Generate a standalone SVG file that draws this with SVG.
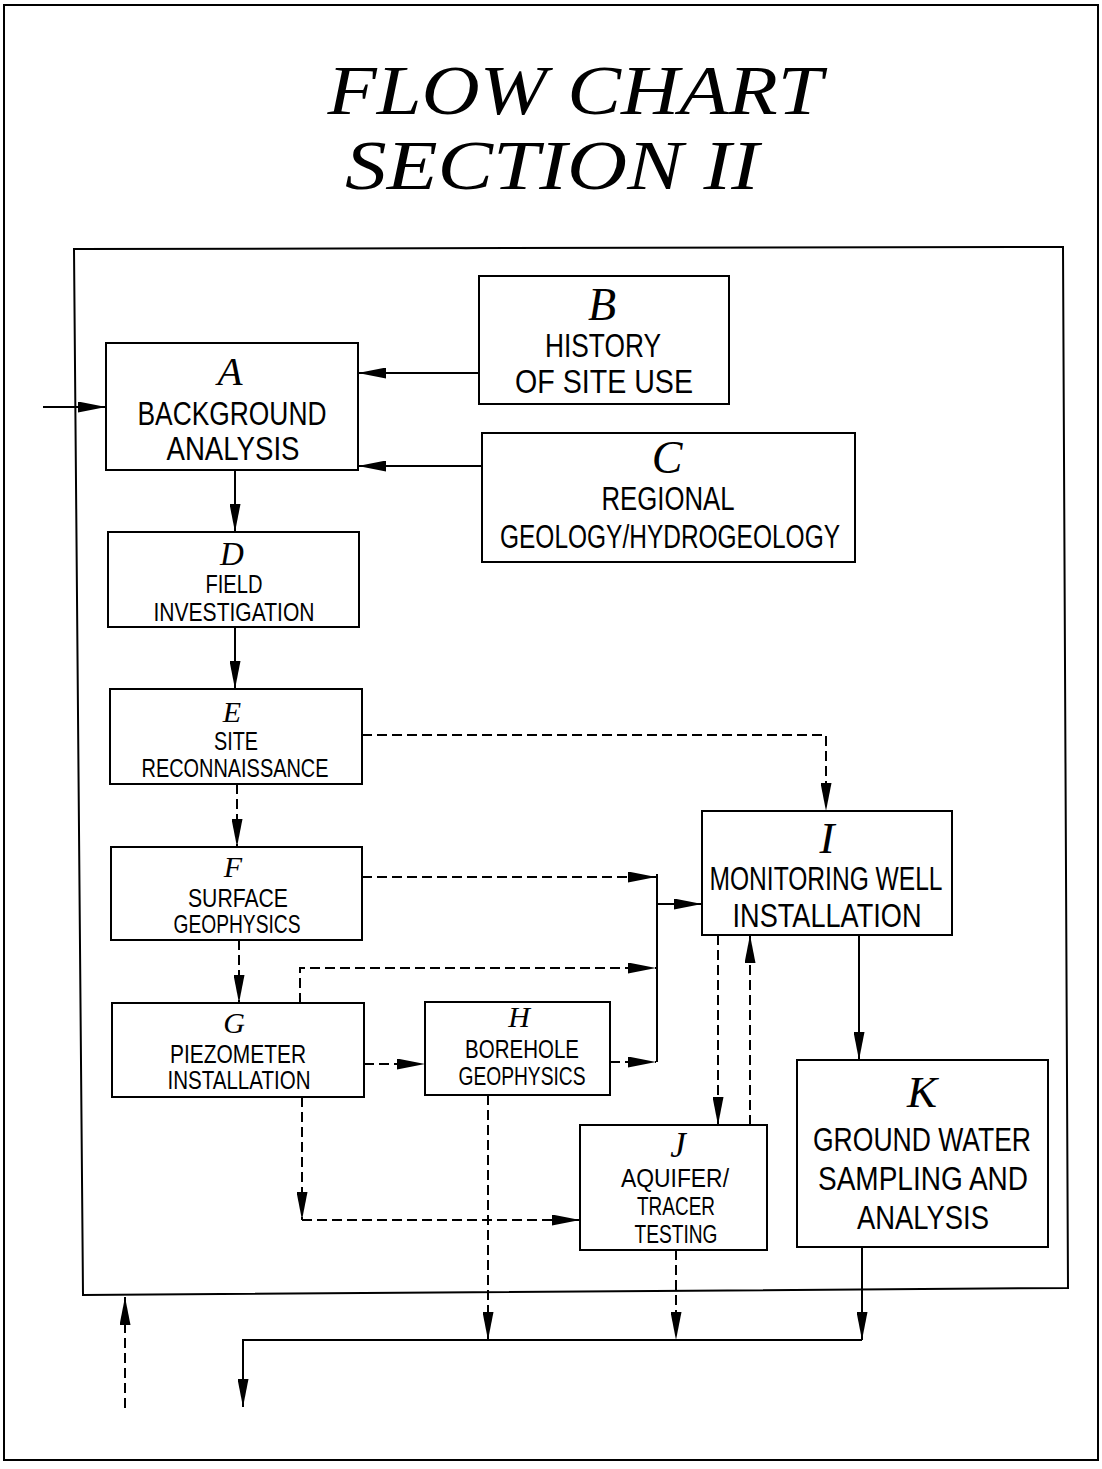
<svg xmlns="http://www.w3.org/2000/svg" width="1102" height="1469" viewBox="0 0 1102 1469">
<style>
.box{fill:none;stroke:#000;stroke-width:2}
.ln{fill:none;stroke:#000;stroke-width:2}
.ds{stroke-dasharray:10 5}
.lbl{font-family:"Liberation Serif",serif;font-style:italic;text-anchor:middle;fill:#000}
.txt{font-family:"Liberation Sans",sans-serif;text-anchor:middle;fill:#000}
.big{font-size:34px}
.sm{font-size:25px}
.title{font-family:"Liberation Serif",serif;font-style:italic;font-size:70px;text-anchor:middle;fill:#000}
</style>
<defs>
<marker id="ah" viewBox="0 0 28 11" refX="28" refY="5.5" markerWidth="28" markerHeight="11" markerUnits="userSpaceOnUse" orient="auto">
<path d="M0,0 L28,5.5 L0,11 Z" fill="#000"/>
</marker>
</defs>
<rect width="1102" height="1469" fill="#fff"/>
<rect x="4" y="5" width="1094" height="1455" class="box"/>
<polygon points="74,249 1063,247 1068,1288 83,1295" class="box"/>
<g id="title">
<text x="575" y="114" class="title" textLength="495" lengthAdjust="spacingAndGlyphs">FLOW CHART</text>
<text x="552" y="189" class="title" textLength="414" lengthAdjust="spacingAndGlyphs">SECTION II</text>
</g>
<g id="A">
<rect x="106" y="343" width="252" height="127" class="box"/>
<text x="230" y="385" class="lbl" font-size="41">A</text>
<text x="232" y="425" class="txt big" textLength="189" lengthAdjust="spacingAndGlyphs">BACKGROUND</text>
<text x="233" y="460" class="txt big" textLength="133" lengthAdjust="spacingAndGlyphs">ANALYSIS</text>
</g>
<g id="B">
<rect x="479" y="276" width="250" height="128" class="box"/>
<text x="602" y="320" class="lbl" font-size="46">B</text>
<text x="603" y="357" class="txt big" textLength="116" lengthAdjust="spacingAndGlyphs">HISTORY</text>
<text x="604" y="393" class="txt big" textLength="178" lengthAdjust="spacingAndGlyphs">OF SITE USE</text>
</g>
<g id="C">
<rect x="482" y="433" width="373" height="129" class="box"/>
<text x="667" y="473" class="lbl" font-size="46">C</text>
<text x="668" y="510" class="txt big" textLength="133" lengthAdjust="spacingAndGlyphs">REGIONAL</text>
<text x="670" y="548" class="txt big" textLength="340" lengthAdjust="spacingAndGlyphs">GEOLOGY/HYDROGEOLOGY</text>
</g>
<g id="D">
<rect x="108" y="532" width="251" height="95" class="box"/>
<text x="232" y="565" class="lbl" font-size="33">D</text>
<text x="234" y="593" class="txt sm" textLength="57" lengthAdjust="spacingAndGlyphs">FIELD</text>
<text x="234" y="621" class="txt sm" textLength="161" lengthAdjust="spacingAndGlyphs">INVESTIGATION</text>
</g>
<g id="E">
<rect x="110" y="689" width="252" height="95" class="box"/>
<text x="232" y="722" class="lbl" font-size="30">E</text>
<text x="236" y="750" class="txt sm" textLength="44" lengthAdjust="spacingAndGlyphs">SITE</text>
<text x="235" y="777" class="txt sm" textLength="187" lengthAdjust="spacingAndGlyphs">RECONNAISSANCE</text>
</g>
<g id="F">
<rect x="111" y="847" width="251" height="93" class="box"/>
<text x="233" y="877" class="lbl" font-size="30">F</text>
<text x="238" y="907" class="txt sm" textLength="100" lengthAdjust="spacingAndGlyphs">SURFACE</text>
<text x="237" y="933" class="txt sm" textLength="127" lengthAdjust="spacingAndGlyphs">GEOPHYSICS</text>
</g>
<g id="G">
<rect x="112" y="1003" width="252" height="94" class="box"/>
<text x="234" y="1033" class="lbl" font-size="30">G</text>
<text x="238" y="1063" class="txt sm" textLength="136" lengthAdjust="spacingAndGlyphs">PIEZOMETER</text>
<text x="239" y="1089" class="txt sm" textLength="143" lengthAdjust="spacingAndGlyphs">INSTALLATION</text>
</g>
<g id="H">
<rect x="425" y="1002" width="185" height="93" class="box"/>
<text x="519" y="1027" class="lbl" font-size="30">H</text>
<text x="522" y="1058" class="txt sm" textLength="114" lengthAdjust="spacingAndGlyphs">BOREHOLE</text>
<text x="522" y="1085" class="txt sm" textLength="127" lengthAdjust="spacingAndGlyphs">GEOPHYSICS</text>
</g>
<g id="I">
<rect x="702" y="811" width="250" height="124" class="box"/>
<text x="827" y="853" class="lbl" font-size="45">I</text>
<text x="826" y="890" class="txt big" textLength="233" lengthAdjust="spacingAndGlyphs">MONITORING WELL</text>
<text x="827" y="927" class="txt big" textLength="189" lengthAdjust="spacingAndGlyphs">INSTALLATION</text>
</g>
<g id="J">
<rect x="580" y="1125" width="187" height="125" class="box"/>
<text x="678" y="1157" class="lbl" font-size="35">J</text>
<text x="675" y="1187" class="txt sm" textLength="108" lengthAdjust="spacingAndGlyphs">AQUIFER/</text>
<text x="676" y="1215" class="txt sm" textLength="78" lengthAdjust="spacingAndGlyphs">TRACER</text>
<text x="676" y="1243" class="txt sm" textLength="83" lengthAdjust="spacingAndGlyphs">TESTING</text>
</g>
<g id="K">
<rect x="797" y="1060" width="251" height="187" class="box"/>
<text x="922" y="1107" class="lbl" font-size="45">K</text>
<text x="922" y="1151" class="txt big" textLength="218" lengthAdjust="spacingAndGlyphs">GROUND WATER</text>
<text x="923" y="1190" class="txt big" textLength="210" lengthAdjust="spacingAndGlyphs">SAMPLING AND</text>
<text x="923" y="1229" class="txt big" textLength="132" lengthAdjust="spacingAndGlyphs">ANALYSIS</text>
</g>
<g id="connectors">
<path d="M43,407 H106" class="ln" marker-end="url(#ah)"/>
<path d="M479,373 H358" class="ln" marker-end="url(#ah)"/>
<path d="M482,466 H358" class="ln" marker-end="url(#ah)"/>
<path d="M235,470 V532" class="ln" marker-end="url(#ah)"/>
<path d="M235,627 V689" class="ln" marker-end="url(#ah)"/>
<path d="M237,784 V847" class="ln ds" marker-end="url(#ah)"/>
<path d="M362,735 H826 V811" class="ln ds" marker-end="url(#ah)"/>
<path d="M362,877 H656" class="ln ds" marker-end="url(#ah)"/>
<path d="M300,1003 V968 H656" class="ln ds" marker-end="url(#ah)"/>
<path d="M610,1062 H656" class="ln ds" marker-end="url(#ah)"/>
<path d="M657,874 V1062" class="ln"/>
<path d="M657,904 H702" class="ln" marker-end="url(#ah)"/>
<path d="M239,940 V1003" class="ln ds" marker-end="url(#ah)"/>
<path d="M364,1064 H425" class="ln ds" marker-end="url(#ah)"/>
<path d="M302,1097 V1220" class="ln ds" marker-end="url(#ah)"/>
<path d="M302,1220 H580" class="ln ds" marker-end="url(#ah)"/>
<path d="M718,935 V1125" class="ln ds" marker-end="url(#ah)"/>
<path d="M750,1125 V935" class="ln ds" marker-end="url(#ah)"/>
<path d="M859,935 V1060" class="ln" marker-end="url(#ah)"/>
<path d="M488,1095 V1340" class="ln ds" marker-end="url(#ah)"/>
<path d="M676,1250 V1340" class="ln ds" marker-end="url(#ah)"/>
<path d="M862,1247 V1340" class="ln" marker-end="url(#ah)"/>
<path d="M862,1340 H243 V1407" class="ln" marker-end="url(#ah)"/>
<path d="M125,1408 V1297" class="ln ds" marker-end="url(#ah)"/>
</g>
</svg>
